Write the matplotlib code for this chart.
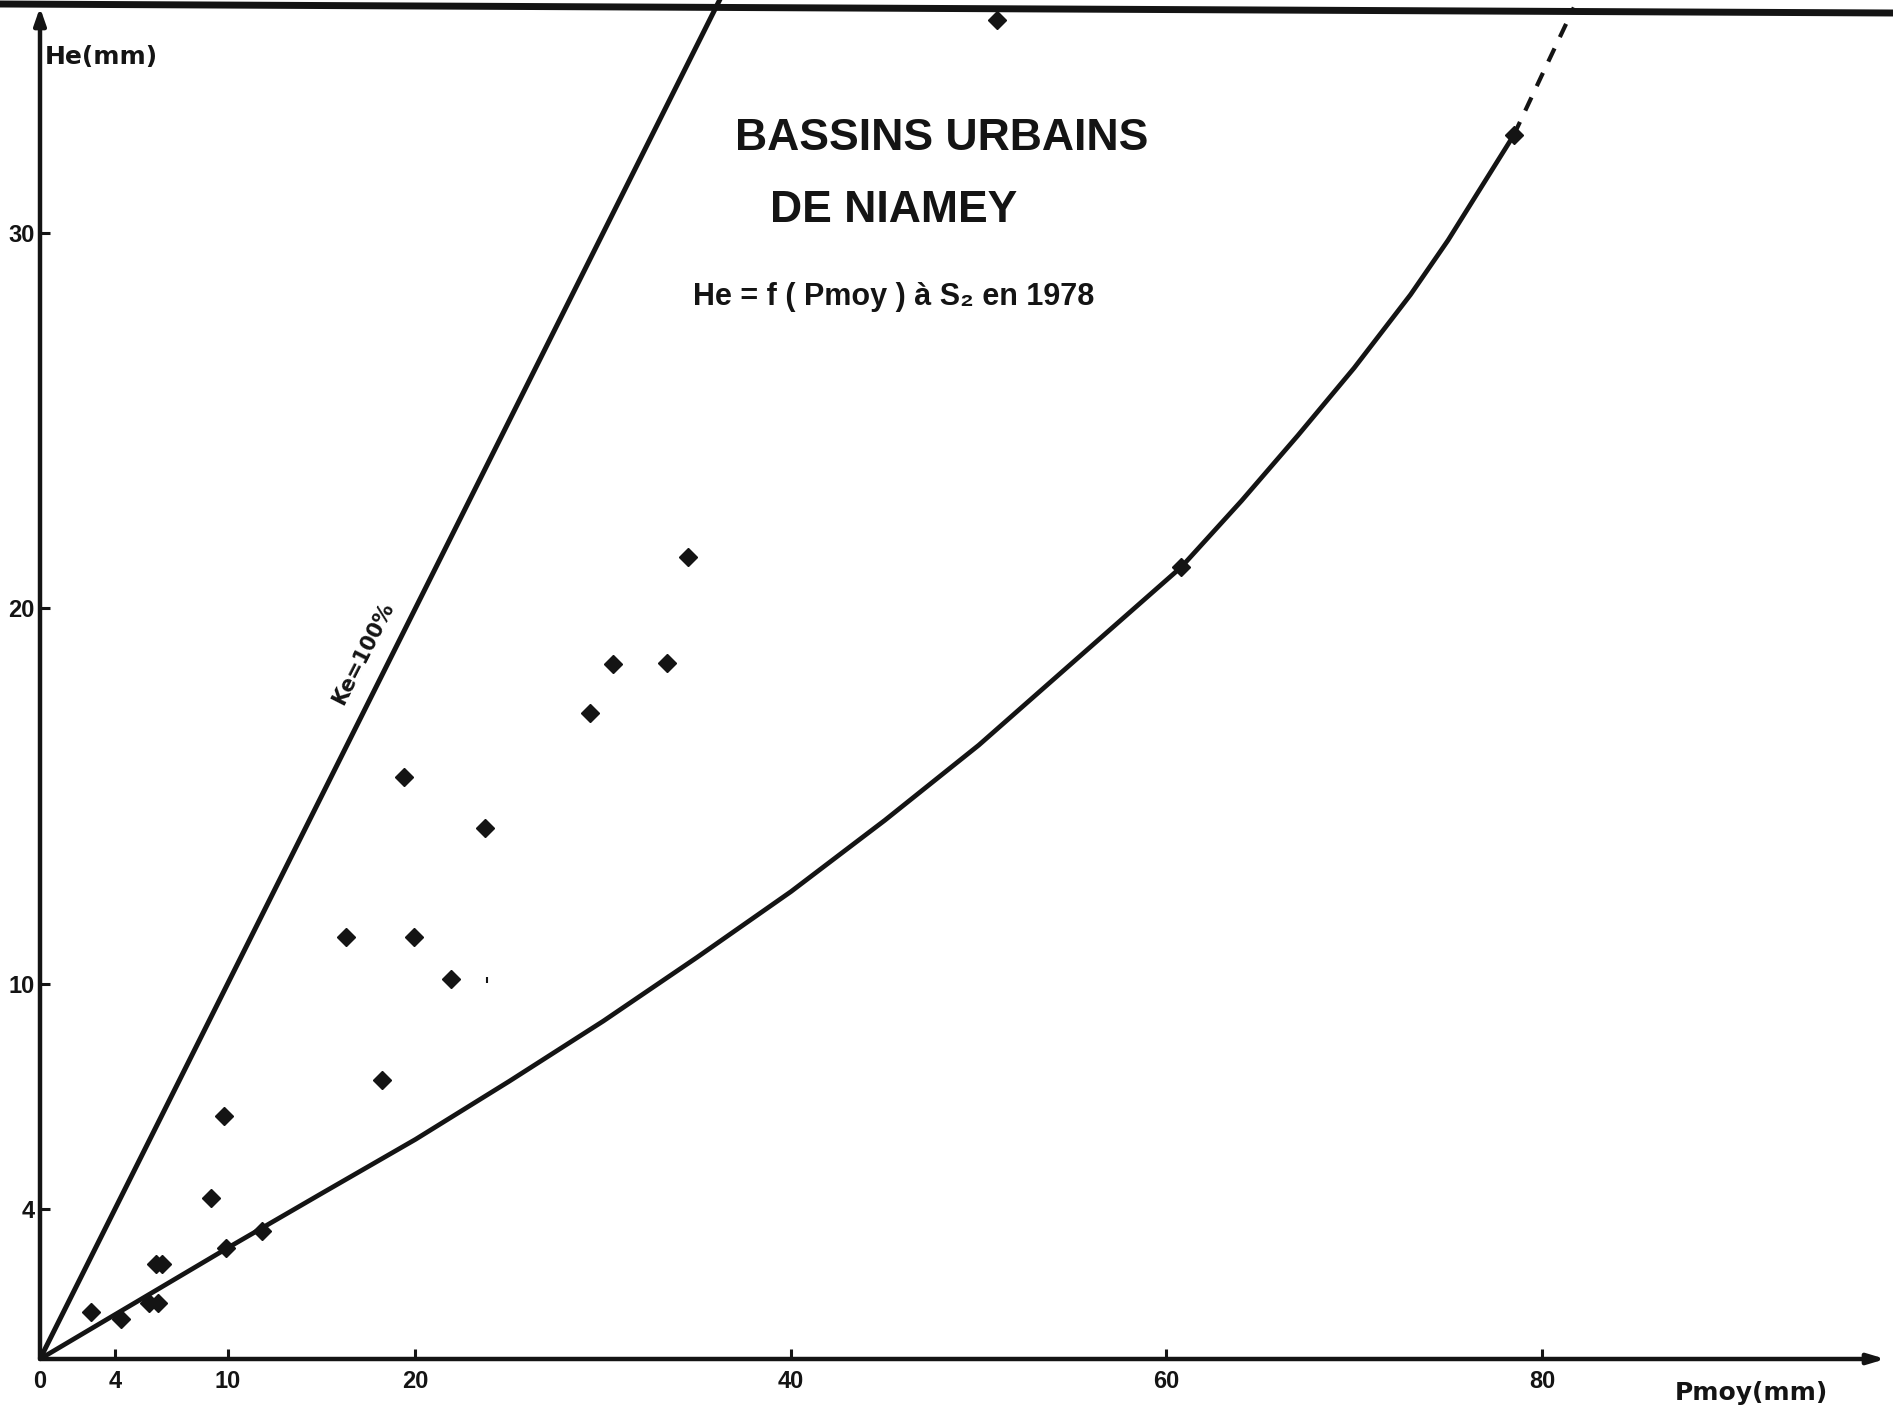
import matplotlib
matplotlib.use("Agg")
import matplotlib.pyplot as plt
from matplotlib import font_manager
from matplotlib.lines import Line2D

# -- Data --
# scatter points: Pmoy (mm) vs He (mm)
p_obs = [2.7, 4.3, 5.8, 6.3, 6.2, 6.5, 9.1, 9.8, 9.9, 11.8, 16.3, 18.2, 19.4,
         19.9, 21.9, 23.7, 29.3, 30.5, 33.4, 34.5, 51.0, 60.8, 78.5]
he_obs = [1.25, 1.06, 1.48, 1.48, 2.54, 2.54, 4.28, 6.46, 2.96, 3.41, 11.25,
          7.43, 15.5, 11.25, 10.13, 14.15, 17.2, 18.5, 18.55, 21.35, 35.66,
          21.1, 32.6]

p_curve = [0, 5, 10, 15, 20, 25, 30, 35, 40, 45, 50, 55, 60.8, 64, 67, 70,
           73, 75, 78.5]
he_curve = [0, 1.48, 2.96, 4.41, 5.85, 7.4, 9.0, 10.7, 12.45, 14.35, 16.35,
            18.55, 21.1, 22.86, 24.6, 26.4, 28.35, 29.8, 32.6]
# dashed extrapolation
p_dash = [78.5, 80.0, 81.7]
he_dash = [32.6, 34.2, 36.0]

# Ke = 100% line (He = Pmoy)
p_ke = [0, 36.3]
he_ke = [0, 36.3]

xticks = [0, 4, 10, 20, 40, 60, 80]
yticks = [4, 10, 20, 30]

INK = "#141414"

installed = {f.name for f in font_manager.fontManager.ttflist}
narrow = "Liberation Sans Narrow" if "Liberation Sans Narrow" in installed else "Liberation Sans"
NARROW = [narrow, "DejaVu Sans"]
ROUND = ["DejaVu Sans"]

W, H = 1893, 1414
fig = plt.figure(figsize=(W / 100, H / 100), dpi=100)
fig.patch.set_facecolor("white")
x0, y0 = 40, 1359  # origin in pixels (from top-left)
ax = fig.add_axes([x0 / W, (H - y0) / H, (W - x0) / W, y0 / H])
ax.set_xlim(0, 98.7)
ax.set_ylim(0, 36.2)
for s in ax.spines.values():
    s.set_visible(False)
ax.patch.set_alpha(0)

# axes drawn as arrows
ax.annotate("", xy=(0, 36.0), xytext=(0, 0),
            arrowprops=dict(arrowstyle="-|>,head_length=1.0,head_width=0.35",
                            lw=3.2, color=INK, shrinkA=0, shrinkB=0))
ax.annotate("", xy=(98.3, 0), xytext=(0, 0),
            arrowprops=dict(arrowstyle="-|>,head_length=1.0,head_width=0.3",
                            lw=3.2, color=INK, shrinkA=0, shrinkB=0))

# page frame line at the top of the scan
fig.add_artist(Line2D([0, 1], [1 - 4 / H, 1 - 13 / H], transform=fig.transFigure,
                      color=INK, lw=5))

ax.set_xticks(xticks)
ax.set_xticklabels([str(t) for t in xticks])
ax.set_yticks(yticks)
ax.set_yticklabels([str(t) for t in yticks])
ax.tick_params(axis="both", direction="in", length=7, width=2.2, color=INK,
               labelcolor=INK)
ax.tick_params(axis="x", pad=8)
ax.tick_params(axis="y", pad=4)
for lab in ax.get_xticklabels() + ax.get_yticklabels():
    lab.set_family(NARROW)
    lab.set_weight("bold")
    lab.set_fontsize(17)

# lines
ax.plot(p_ke, he_ke, color=INK, lw=3.6, solid_capstyle="butt", clip_on=False)
ax.plot(p_curve, he_curve, color=INK, lw=3.4, solid_joinstyle="round")
ax.plot(p_dash, he_dash, color=INK, lw=3.0, ls=(0, (3.5, 3)), clip_on=False)

# points
ax.plot(p_obs, he_obs, ls="none", marker="D", ms=9, color=INK, clip_on=False)
ax.plot([23.8], [10.1], ls="none", marker="|", ms=5, mew=1.5, color=INK)

# texts
ax.text(0.27, 34.67, "He(mm)", family=ROUND, weight="bold", fontsize=18,
        color=INK, ha="left", va="center")
ax.text(87.1, -0.9, "Pmoy(mm)", family=ROUND, fontsize=18, weight="semibold",
        color=INK, ha="left", va="center", clip_on=False)
ax.text(37.0, 32.5, "BASSINS URBAINS", family=NARROW, weight="bold",
        fontsize=32, color=INK, ha="left", va="center")
ax.text(38.9, 30.6, "DE NIAMEY", family=NARROW, weight="bold",
        fontsize=32, color=INK, ha="left", va="center")
ax.text(34.8, 28.3, "He = f ( Pmoy ) à S\u2082 en 1978", family=NARROW,
        weight="bold", fontsize=22, color=INK, ha="left", va="center")
ax.text(17.2, 18.8, "Ke=100%", family=ROUND, weight="bold", fontsize=15,
        color=INK, ha="center", va="center", rotation=63)

fig.savefig("out.png", dpi=100, facecolor="white")
